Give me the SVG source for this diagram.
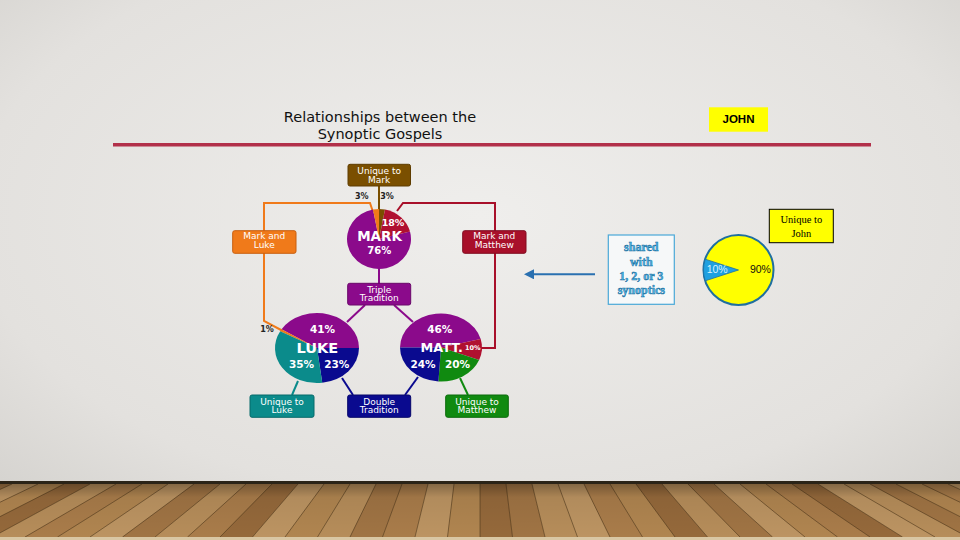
<svg xmlns="http://www.w3.org/2000/svg" width="960" height="540" viewBox="0 0 960 540">
<defs>
<radialGradient id="bg" cx="50%" cy="40%" r="75%">
<stop offset="0" stop-color="#efeeec"/>
<stop offset="0.7" stop-color="#e3e1de"/>
<stop offset="1" stop-color="#d2d0cc"/>
</radialGradient>
<linearGradient id="floorShade" x1="0" y1="0" x2="0" y2="1">
<stop offset="0" stop-color="#000" stop-opacity="0.3"/>
<stop offset="0.25" stop-color="#000" stop-opacity="0.06"/>
<stop offset="1" stop-color="#000" stop-opacity="0"/>
</linearGradient>
<marker id="arr" viewBox="0 0 10 10" refX="1" refY="5" markerWidth="5" markerHeight="5" orient="auto-start-reverse">
<path d="M0,0 L10,5 L0,10 Z" fill="#2a70b0"/>
</marker>
<style>
.box{stroke-width:1}
.bt{font-family:"DejaVu Sans","Liberation Sans",sans-serif;font-size:9px;fill:#fff;text-anchor:middle}
.pt{font-family:"DejaVu Sans","Liberation Sans",sans-serif;font-weight:bold;fill:#fff;text-anchor:middle}
.dk{font-family:"DejaVu Sans","Liberation Sans",sans-serif;font-weight:bold;fill:#222;text-anchor:middle;font-size:8px}
.ln{fill:none;stroke-width:2}
.sh{font-family:"Liberation Serif",serif;font-weight:bold;font-size:12px;fill:#4fb8ea;stroke:#1b6e9e;stroke-width:0.5;text-anchor:middle}
.seam{stroke:#3a2812;stroke-width:0.8;opacity:0.6}
</style>
</defs>

<rect width="960" height="540" fill="url(#bg)"/>

<!-- floor -->
<g id="floor">
<rect x="0" y="482" width="960" height="58" fill="#ab7f4b"/>
<polygon points="-14,484 12,484 -105,537 -137.5,537" fill="#a07444"/>
<polygon points="12,484 38,484 -72.5,537 -105,537" fill="#bc9462"/>
<polygon points="38,484 64,484 -40,537 -72.5,537" fill="#b08550"/>
<polygon points="64,484 90,484 -7.5,537 -40,537" fill="#95693b"/>
<polygon points="90,484 116,484 25,537 -7.5,537" fill="#b68d5a"/>
<polygon points="116,484 142,484 57.5,537 25,537" fill="#a97c4a"/>
<polygon points="142,484 168,484 90,537 57.5,537" fill="#b08550"/>
<polygon points="168,484 194,484 122.5,537 90,537" fill="#bc9462"/>
<polygon points="194,484 220,484 155,537 122.5,537" fill="#a07444"/>
<polygon points="220,484 246,484 187.5,537 155,537" fill="#b68d5a"/>
<polygon points="246,484 272,484 220,537 187.5,537" fill="#a97c4a"/>
<polygon points="272,484 298,484 252.5,537 220,537" fill="#95693b"/>
<polygon points="298,484 324,484 285,537 252.5,537" fill="#bc9462"/>
<polygon points="324,484 350,484 317.5,537 285,537" fill="#b08550"/>
<polygon points="350,484 376,484 350,537 317.5,537" fill="#b68d5a"/>
<polygon points="376,484 402,484 382.5,537 350,537" fill="#a07444"/>
<polygon points="402,484 428,484 415,537 382.5,537" fill="#a97c4a"/>
<polygon points="428,484 454,484 447.5,537 415,537" fill="#bc9462"/>
<polygon points="454,484 480,484 480,537 447.5,537" fill="#b08550"/>
<polygon points="480,484 506,484 512.5,537 480,537" fill="#95693b"/>
<polygon points="506,484 532,484 545,537 512.5,537" fill="#a07444"/>
<polygon points="532,484 558,484 577.5,537 545,537" fill="#b68d5a"/>
<polygon points="558,484 584,484 610,537 577.5,537" fill="#bc9462"/>
<polygon points="584,484 610,484 642.5,537 610,537" fill="#a97c4a"/>
<polygon points="610,484 636,484 675,537 642.5,537" fill="#b08550"/>
<polygon points="636,484 662,484 707.5,537 675,537" fill="#95693b"/>
<polygon points="662,484 688,484 740,537 707.5,537" fill="#b68d5a"/>
<polygon points="688,484 714,484 772.5,537 740,537" fill="#a07444"/>
<polygon points="714,484 740,484 805,537 772.5,537" fill="#bc9462"/>
<polygon points="740,484 766,484 837.5,537 805,537" fill="#b08550"/>
<polygon points="766,484 792,484 870,537 837.5,537" fill="#a97c4a"/>
<polygon points="792,484 818,484 902.5,537 870,537" fill="#95693b"/>
<polygon points="818,484 844,484 935,537 902.5,537" fill="#bc9462"/>
<polygon points="844,484 870,484 967.5,537 935,537" fill="#b68d5a"/>
<polygon points="870,484 896,484 1000,537 967.5,537" fill="#a07444"/>
<polygon points="896,484 922,484 1032.5,537 1000,537" fill="#b08550"/>
<polygon points="922,484 948,484 1065,537 1032.5,537" fill="#a97c4a"/>
<polygon points="948,484 974,484 1097.5,537 1065,537" fill="#bc9462"/>
<g class="seam">
<line x1="12" y1="484" x2="-105" y2="537"/><line x1="38" y1="484" x2="-72.5" y2="537"/><line x1="64" y1="484" x2="-40" y2="537"/><line x1="90" y1="484" x2="-7.5" y2="537"/><line x1="116" y1="484" x2="25" y2="537"/><line x1="142" y1="484" x2="57.5" y2="537"/><line x1="168" y1="484" x2="90" y2="537"/><line x1="194" y1="484" x2="122.5" y2="537"/><line x1="220" y1="484" x2="155" y2="537"/><line x1="246" y1="484" x2="187.5" y2="537"/><line x1="272" y1="484" x2="220" y2="537"/><line x1="298" y1="484" x2="252.5" y2="537"/><line x1="324" y1="484" x2="285" y2="537"/><line x1="350" y1="484" x2="317.5" y2="537"/><line x1="376" y1="484" x2="350" y2="537"/><line x1="402" y1="484" x2="382.5" y2="537"/><line x1="428" y1="484" x2="415" y2="537"/><line x1="454" y1="484" x2="447.5" y2="537"/><line x1="480" y1="484" x2="480" y2="537"/><line x1="506" y1="484" x2="512.5" y2="537"/><line x1="532" y1="484" x2="545" y2="537"/><line x1="558" y1="484" x2="577.5" y2="537"/><line x1="584" y1="484" x2="610" y2="537"/><line x1="610" y1="484" x2="642.5" y2="537"/><line x1="636" y1="484" x2="675" y2="537"/><line x1="662" y1="484" x2="707.5" y2="537"/><line x1="688" y1="484" x2="740" y2="537"/><line x1="714" y1="484" x2="772.5" y2="537"/><line x1="740" y1="484" x2="805" y2="537"/><line x1="766" y1="484" x2="837.5" y2="537"/><line x1="792" y1="484" x2="870" y2="537"/><line x1="818" y1="484" x2="902.5" y2="537"/><line x1="844" y1="484" x2="935" y2="537"/><line x1="870" y1="484" x2="967.5" y2="537"/><line x1="896" y1="484" x2="1000" y2="537"/><line x1="922" y1="484" x2="1032.5" y2="537"/><line x1="948" y1="484" x2="1065" y2="537"/>
</g>
<rect x="0" y="484" width="960" height="53" fill="url(#floorShade)"/>
<rect x="0" y="481" width="960" height="3" fill="#2b2418"/>
<rect x="0" y="537" width="960" height="3" fill="#d9c7a4"/>
</g>

<!-- title -->
<g id="title">
<text x="380" y="121.5" font-family="DejaVu Sans, Liberation Sans, sans-serif" font-size="14.5" fill="#111" text-anchor="middle">Relationships between the</text>
<text x="380" y="139.3" font-family="DejaVu Sans, Liberation Sans, sans-serif" font-size="14.5" fill="#111" text-anchor="middle">Synoptic Gospels</text>
<line x1="113" y1="144.7" x2="871" y2="144.7" stroke="#b2304a" stroke-width="3.5"/>
</g>

<g id="john-label">
<rect x="709" y="107.3" width="59" height="24.4" fill="#ffff00"/>
<text x="738.5" y="122.7" font-family="Liberation Sans, Arial, sans-serif" font-weight="bold" font-size="11.5" fill="#000" text-anchor="middle">JOHN</text>
</g>

<!-- connectors -->
<g id="connectors">
<polyline class="ln" stroke="#7a4f00" points="379,186 379,212"/>
<polyline class="ln" stroke="#f07a1a" points="373,212 370,203 264,203 264,231"/>
<polyline class="ln" stroke="#f07a1a" points="264,253 264,321 282,330.5"/>
<polyline class="ln" stroke="#a8102a" points="397,211 403,203 495,203 495,231"/>
<polyline class="ln" stroke="#a8102a" points="495,253 495,348 480,348"/>
<polyline class="ln" stroke="#8b0a8b" points="379,268 379,284"/>
<polyline class="ln" stroke="#8b0a8b" points="365,305 347,322"/>
<polyline class="ln" stroke="#8b0a8b" points="394,305 413,322"/>
<polyline class="ln" stroke="#0b8b8b" points="298,381 292,395"/>
<polyline class="ln" stroke="#0a0a8f" points="342,378 353,395"/>
<polyline class="ln" stroke="#0a0a8f" points="418,377 405,395"/>
<polyline class="ln" stroke="#108a10" points="460,378 468,395"/>
<line x1="595" y1="274.3" x2="533" y2="274.3" stroke="#2a70b0" stroke-width="2" marker-end="url(#arr)"/>
</g>

<!-- Mark pie -->
<g id="mark">
<path d="M379,239 L410.0,231.54 A32,30 0 1,1 373.0,209.53 Z" fill="#8b0a8b"/>
<path d="M379,239 L373.0,209.53 A32,30 0 0,1 379,209 Z" fill="#f07a1a"/>
<path d="M379,239 L379,209 A32,30 0 0,1 385.0,209.53 Z" fill="#7a4f00"/>
<path d="M379,239 L385.0,209.53 A32,30 0 0,1 410.0,231.54 Z" fill="#b01030"/>
<text class="pt" x="393" y="225.7" font-size="9.5">18%</text>
<text class="pt" x="379.5" y="241" font-size="13.5">MARK</text>
<text class="pt" x="379.2" y="254" font-size="10">76%</text>
<text class="dk" x="361.8" y="199.3">3%</text>
<text class="dk" x="387" y="199.3">3%</text>
</g>

<!-- Luke pie -->
<g id="luke">
<path d="M317,348 L281.54,329.25 A42,35 0 0,1 359,348 Z" fill="#8b0a8b"/>
<path d="M317,348 L280.20,331.14 A42,35 0 0,1 281.54,329.25 Z" fill="#f07a1a"/>
<path d="M317,348 L359,348 A42,35 0 0,1 322.26,382.72 Z" fill="#0a0a8f"/>
<path d="M317,348 L322.26,382.72 A42,35 0 0,1 280.20,331.14 Z" fill="#0b8b8b"/>
<text class="pt" x="322.5" y="333.3" font-size="10.5">41%</text>
<text class="pt" x="317.3" y="352.7" font-size="14.5">LUKE</text>
<text class="pt" x="301.5" y="367.7" font-size="10.5">35%</text>
<text class="pt" x="336.7" y="367.7" font-size="10.5">23%</text>
<text class="dk" x="267" y="332.3" font-size="8.5">1%</text>
</g>

<!-- Matthew pie -->
<g id="matt">
<path d="M441,347.5 L400,347.5 A41,34 0 0,1 480.71,339.04 Z" fill="#8b0a8b"/>
<path d="M441,347.5 L480.71,339.04 A41,34 0 0,1 479.12,360.02 Z" fill="#b01030"/>
<path d="M441,347.5 L479.12,360.02 A41,34 0 0,1 438.43,381.43 Z" fill="#108a10"/>
<path d="M441,347.5 L438.43,381.43 A41,34 0 0,1 400,347.5 Z" fill="#0a0a8f"/>
<text class="pt" x="439.7" y="333.3" font-size="10.5">46%</text>
<text class="pt" x="441.7" y="352.3" font-size="12.8">MATT.</text>
<text class="pt" x="472.8" y="350" font-size="6.5">10%</text>
<text class="pt" x="423" y="368.3" font-size="10.5">24%</text>
<text class="pt" x="457.5" y="368.3" font-size="10.5">20%</text>
</g>

<!-- boxes -->
<g id="unique-mark">
<rect class="box" x="348" y="164.3" width="62.5" height="21.7" rx="2" fill="#7a4f00" stroke="#5e3c00"/>
<text class="bt" x="379.2" y="174">Unique to</text>
<text class="bt" x="379.2" y="182.7">Mark</text>
</g>
<g id="mark-luke">
<rect class="box" x="232.7" y="230.7" width="63.3" height="22.6" rx="2" fill="#f07a1a" stroke="#c85e0e"/>
<text class="bt" x="264.3" y="239.3">Mark and</text>
<text class="bt" x="264.3" y="248.3">Luke</text>
</g>
<g id="mark-matthew">
<rect class="box" x="462.7" y="230.7" width="63.3" height="22.6" rx="2" fill="#a8102a" stroke="#800c20"/>
<text class="bt" x="494.3" y="239.3">Mark and</text>
<text class="bt" x="494.3" y="248.3">Matthew</text>
</g>
<g id="triple">
<rect class="box" x="347.7" y="283.3" width="63" height="21.7" rx="2" fill="#8b0a8b" stroke="#6a086a"/>
<text class="bt" x="379.2" y="292.7">Triple</text>
<text class="bt" x="379.2" y="301.3">Tradition</text>
</g>
<g id="unique-luke">
<rect class="box" x="250" y="395" width="64" height="22.3" rx="2" fill="#0b8b8b" stroke="#076a6a"/>
<text class="bt" x="282" y="404.6">Unique to</text>
<text class="bt" x="282" y="413.3">Luke</text>
</g>
<g id="double">
<rect class="box" x="347.7" y="395" width="63" height="22.3" rx="2" fill="#0a0a8f" stroke="#06066a"/>
<text class="bt" x="379.2" y="404.6">Double</text>
<text class="bt" x="379.2" y="413.3">Tradition</text>
</g>
<g id="unique-matthew">
<rect class="box" x="445.7" y="395" width="62.6" height="22.3" rx="2" fill="#108a10" stroke="#0a6a0a"/>
<text class="bt" x="477" y="404.6">Unique to</text>
<text class="bt" x="477" y="413.3">Matthew</text>
</g>

<!-- John side -->
<g id="shared">
<rect x="608.3" y="235" width="66" height="69.3" fill="#f6f8f9" stroke="#4aa8d8" stroke-width="1.2"/>
<text class="sh" x="641.3" y="250.7">shared</text>
<text class="sh" x="641.3" y="265.7">with</text>
<text class="sh" x="641.3" y="279.5">1, 2, or 3</text>
<text class="sh" x="641.3" y="293.5">synoptics</text>
</g>
<g id="john-pie">
<circle cx="738.5" cy="270" r="35" fill="#ffff00" stroke="#1f6f9f" stroke-width="2"/>
<path d="M738.5,270 L705.21,280.82 A35,35 0 0,1 705.21,259.18 Z" fill="#1ea0e0" stroke="#1f6f9f" stroke-width="0.8"/>
<text x="717.2" y="272.7" font-family="Liberation Sans, Arial, sans-serif" font-size="10.5" fill="#d8f2ff" text-anchor="middle">10%</text>
<text x="760.4" y="272.7" font-family="Liberation Sans, Arial, sans-serif" font-size="10.5" fill="#111" text-anchor="middle">90%</text>
</g>
<g id="unique-john">
<rect x="769.3" y="209.3" width="64" height="33.4" fill="#ffff00" stroke="#000" stroke-width="1"/>
<text x="801.3" y="223.3" font-family="Liberation Serif, serif" font-size="10.5" fill="#000" text-anchor="middle">Unique to</text>
<text x="801.3" y="236.7" font-family="Liberation Serif, serif" font-size="10.5" fill="#000" text-anchor="middle">John</text>
</g>
</svg>
